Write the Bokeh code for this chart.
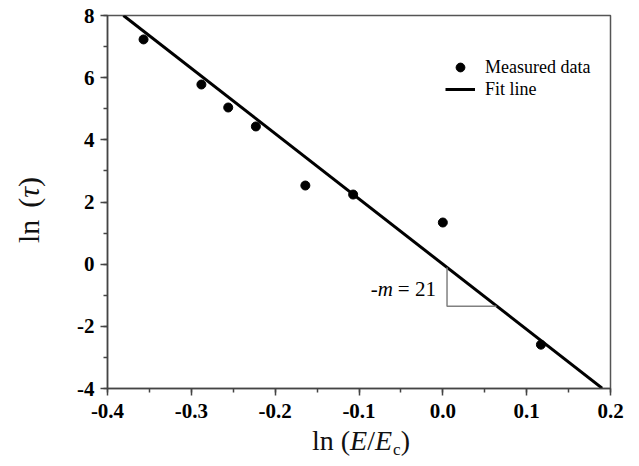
from bokeh.plotting import figure
from bokeh.models import (Range1d, SingleIntervalTicker, PrintfTickFormatter, Label,
                          Legend, LegendItem, Div)
from bokeh.layouts import row, column
from bokeh.embed import file_html
from bokeh.resources import INLINE

# ---- data ----
ln_E_ratio = [-0.357, -0.288, -0.256, -0.223, -0.164, -0.107, 0.000, 0.117]
ln_tau = [7.23, 5.78, 5.04, 4.43, 2.53, 2.24, 1.34, -2.59]
fit_slope = -21.0
fit_intercept = 0.0
fit_x = [-0.381, 0.19]
fit_y = [fit_slope * x + fit_intercept for x in fit_x]
tri_x = [0.005, 0.005, 0.064]
tri_y = [fit_slope * 0.005 + fit_intercept, -1.35, -1.35]
x_ticks_interval = 0.1
y_ticks_interval = 2
x_label_html = ('ln (<i>E</i>/<i>E</i><span style="font-size:17px;position:relative;'
                'top:5px;margin-left:1px;">c</span>)')
y_label_html = 'ln<span style="margin-left:12px;">(</span><i>τ</i>)'

SERIF = "Liberation Serif"

W, H = 639, 466
YDIV_W = 50
XDIV_H = 38
FIG_W = W - YDIV_W
FIG_H = H - XDIV_H

p = figure(width=FIG_W, height=FIG_H, output_backend="svg", toolbar_location=None,
           x_range=Range1d(-0.4, 0.2), y_range=Range1d(-4, 8),
           min_border_left=107 - YDIV_W, min_border_right=29, min_border_top=15,
           min_border_bottom=FIG_H - 388)
p.xgrid.visible = False
p.ygrid.visible = False
p.background_fill_color = "white"
p.border_fill_color = "white"
p.outline_line_color = "#555555"
p.outline_line_width = 1.5

p.xaxis.ticker = SingleIntervalTicker(interval=x_ticks_interval, num_minor_ticks=2)
p.yaxis.ticker = SingleIntervalTicker(interval=y_ticks_interval, num_minor_ticks=2)
p.xaxis.formatter = PrintfTickFormatter(format="%.1f")
p.yaxis.formatter = PrintfTickFormatter(format="%d")
for ax in (p.xaxis, p.yaxis):
    ax.axis_line_color = "#444444"
    ax.axis_line_width = 1.5
    ax.major_tick_line_color = "#444444"
    ax.major_tick_line_width = 1.5
    ax.minor_tick_line_color = "#444444"
    ax.minor_tick_line_width = 1.5
    ax.major_tick_out = 7
    ax.major_tick_in = 0
    ax.minor_tick_out = 4
    ax.minor_tick_in = 0
    ax.major_label_text_font = SERIF
    ax.major_label_text_font_style = "bold"
    ax.major_label_text_font_size = "21px"
    ax.major_label_text_color = "black"
    ax.axis_label = ""
p.xaxis.major_label_standoff = 8
p.yaxis.major_label_standoff = 6

line_r = p.line(fit_x, fit_y, line_color="black", line_width=3)
pts_r = p.scatter(ln_E_ratio, ln_tau, size=9, fill_color="black", line_color="black")
p.line(tri_x, tri_y, line_color="#808080", line_width=1.5)

legend = Legend(items=[LegendItem(label="Measured data", renderers=[pts_r]),
                       LegendItem(label="Fit line", renderers=[line_r])],
                location=(338, 288), orientation="vertical",
                glyph_width=30, glyph_height=22, label_height=22, label_standoff=10,
                padding=0, margin=0, spacing=0,
                border_line_color=None, background_fill_alpha=0,
                label_text_font=SERIF, label_text_font_size="18px", label_text_color="black")
p.add_layout(legend, "center")

# slope annotation
p.add_layout(Label(x=0.0, y=-0.8, text="-m", x_offset=-50, text_align="right",
                   text_font=SERIF, text_font_size="21px", text_font_style="italic",
                   text_color="black", text_baseline="alphabetic"))
p.add_layout(Label(x=0.0, y=-0.8, text="= 21", x_offset=-45, text_align="left",
                   text_font=SERIF, text_font_size="21px", text_color="black",
                   text_baseline="alphabetic"))

# axis titles as HTML (italic and subscript parts)
ydiv = Div(width=YDIV_W, height=H, margin=0,
           text=('<div style="position:relative;width:%dpx;height:%dpx;">'
                 '<div style="position:absolute;left:29px;top:210px;'
                 'transform:translate(-50%%,-50%%) rotate(-90deg);white-space:nowrap;'
                 'font-family:\'Liberation Serif\';font-size:30px;line-height:1;color:#111;">'
                 '%s</div></div>') % (YDIV_W, H, y_label_html))
xdiv = Div(width=FIG_W, height=XDIV_H, margin=0,
           text=('<div style="position:relative;width:%dpx;height:%dpx;">'
                 '<div style="position:absolute;left:%dpx;top:-3px;white-space:nowrap;'
                 'font-family:\'Liberation Serif\';font-size:28px;line-height:32px;color:#111;">'
                 '%s</div></div>') % (FIG_W, XDIV_H, 312 - YDIV_W, x_label_html))

layout = row(ydiv, column(p, xdiv, spacing=0), spacing=0)

open("out.html", "w").write(file_html(layout, INLINE))
